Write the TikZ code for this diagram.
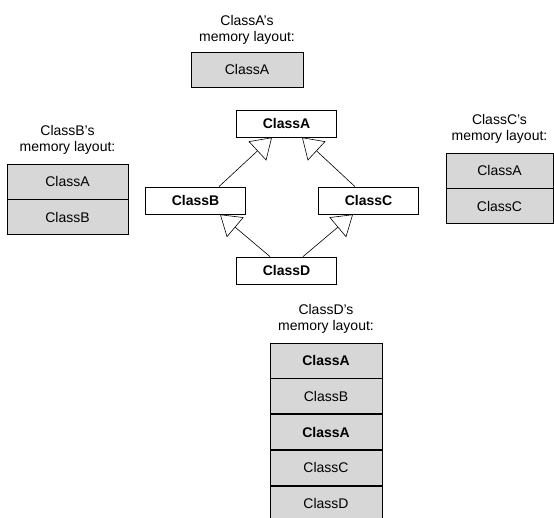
\documentclass[tikz,border=0pt]{standalone}
\usepackage{fontspec}
\setmainfont{Liberation Sans}
\usetikzlibrary{arrows.meta,positioning,calc}
\definecolor{memgray}{RGB}{215,215,215}

\begin{document}
\begin{tikzpicture}[
      x=1pt, y=-1pt,
      node distance=0pt,
      cls/.style={draw, line width=0.8pt, minimum height=27pt,
                  minimum width=100pt, inner sep=0pt,
                  font=\fontsize{14}{16}\selectfont\bfseries},
      cell/.style={draw, line width=0.8pt, fill=memgray, minimum height=35pt,
                   minimum width=112pt, inner sep=0pt,
                   font=\fontsize{14}{16}\selectfont},
      boldcell/.style={cell, font=\fontsize{14}{16}\selectfont\bfseries},
      lbl/.style={align=center, inner sep=0pt,
                  font=\fontsize{14}{16}\selectfont},
      inh/.style={line width=0.6pt,
                  arrows={-Triangle[open, length=20pt, width=26pt]}},
    ]
    \useasboundingbox (0,0) rectangle (554,518);

    % Class hierarchy
    \node[cls] (A) at (286.5,123.5) {ClassA};
    \node[cls] (B) at (195.5,200.5) {ClassB};
    \node[cls] (C) at (368.5,200.5) {ClassC};
    \node[cls] (D) at (286.5,270.5) {ClassD};

    % Inheritance arrows
    \draw[inh] ([xshift=23.5pt]B.north) -- ([xshift=-14.5pt]A.south);
    \draw[inh] ([xshift=-13.5pt]C.north) -- ([xshift=15.5pt]A.south);
    \draw[inh] ([xshift=-16.5pt]D.north) -- ([xshift=24.5pt]B.south);
    \draw[inh] ([xshift=16.5pt]D.north) -- ([xshift=-15.5pt]C.south);

    % ClassA's layout
    \node[cell] (memA) at (247,69.5) {ClassA};
    \node[lbl, above=7pt of memA] (labA) {ClassA’s\\memory layout:};

    % ClassB's layout
    \node[cell, minimum width=121pt] (memBa) at (67.5,181.5) {ClassA};
    \node[cell, minimum width=121pt, below=of memBa] (memBb) {ClassB};
    \node[lbl, above=9pt of memBa] (labB) {ClassB’s\\memory layout:};

    % ClassC's layout
    \node[cell, minimum width=107pt] (memCa) at (499.5,170.5) {ClassA};
    \node[cell, minimum width=107pt, below=of memCa] (memCc) {ClassC};
    \node[lbl, above=9pt of memCa] (labC) {ClassC’s\\memory layout:};

    % ClassD's layout
    \node[boldcell] (memDa) at (326,360.5) {ClassA};
    \node[cell, below=of memDa]     (memDb)  {ClassB};
    \node[boldcell, below=of memDb] (memDa2) {ClassA};
    \node[cell, below=of memDa2]    (memDc)  {ClassC};
    \node[cell, below=of memDc]     (memDd)  {ClassD};
    \node[lbl, above=9pt of memDa] (labD) {ClassD’s\\memory layout:};
  \end{tikzpicture}
\end{document}
